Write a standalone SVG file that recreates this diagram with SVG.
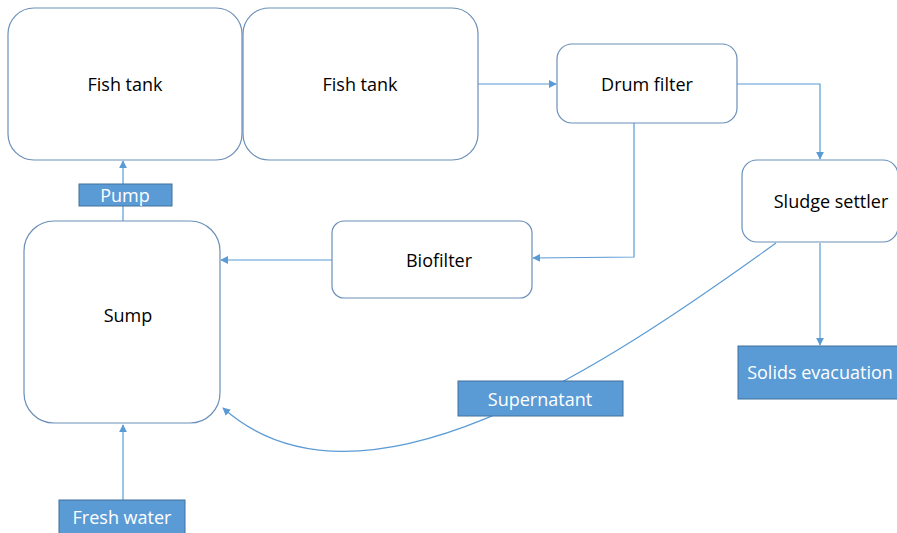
<svg xmlns="http://www.w3.org/2000/svg" width="897" height="533" viewBox="0 0 897 533">
<defs>
<marker id="arr" viewBox="0 0 10 10" refX="9" refY="5" markerWidth="8" markerHeight="8" markerUnits="userSpaceOnUse" orient="auto">
<path d="M0,0 L10,5 L0,10 z" fill="#5B9BD5"/>
</marker>
<style>
.node{fill:#fff;stroke:#6A8FB8;stroke-width:1.2}
.box{fill:#5B9BD5;stroke:#41719C;stroke-width:1}
.t{font-family:"Open Sans","Liberation Sans",sans-serif;font-size:18px;fill:#000;text-anchor:middle;dominant-baseline:central}
.w{font-family:"Open Sans","Liberation Sans",sans-serif;font-size:18px;fill:#fff;text-anchor:middle;dominant-baseline:central}
.c{fill:none;stroke:#5B9BD5;stroke-width:1.2;marker-end:url(#arr)}
</style>
</defs>
<g id="connectors">
<path class="c" d="M478,84 L556,84"/>
<path class="c" d="M737,84 L820,84 L820,159"/>
<path class="c" d="M634,123 L634,257 L533,258"/>
<path class="c" d="M332,260 L221,260"/>
<path class="c" d="M123,221 L123,161"/>
<path class="c" d="M123,500 L123,425"/>
<path class="c" d="M820,243 L820,345"/>
<path class="c" d="M776,243 C600,370 360,530 223,408"/>
</g>
<g id="fishtank1"><rect class="node" x="8" y="8" width="234" height="152" rx="26"/><text class="t" x="125" y="84">Fish tank</text></g>
<g id="fishtank2"><rect class="node" x="243" y="8" width="235" height="152" rx="26"/><text class="t" x="360" y="84">Fish tank</text></g>
<g id="drumfilter"><rect class="node" x="557" y="44" width="180" height="79" rx="15"/><text class="t" x="647" y="84">Drum filter</text></g>
<g id="sludgesettler"><rect class="node" x="742" y="160" width="156" height="82" rx="15"/><text class="t" x="831" y="201">Sludge settler</text></g>
<g id="biofilter"><rect class="node" x="332" y="221" width="200" height="77" rx="12"/><text class="t" x="439" y="260">Biofilter</text></g>
<g id="sump"><rect class="node" x="24" y="221" width="196" height="202" rx="30"/><text class="t" x="128" y="315">Sump</text></g>
<g id="pump"><rect class="box" x="79" y="184" width="93" height="22"/><text class="w" x="125" y="195">Pump</text></g>
<g id="freshwater"><rect class="box" x="59" y="500" width="126" height="34"/><text class="w" x="122" y="517">Fresh water</text></g>
<g id="supernatant"><rect class="box" x="458" y="381" width="165" height="35"/><text class="w" x="540" y="399">Supernatant</text></g>
<g id="solids"><rect class="box" x="738" y="346" width="160" height="53"/><text class="w" x="820" y="372">Solids evacuation</text></g>
</svg>
